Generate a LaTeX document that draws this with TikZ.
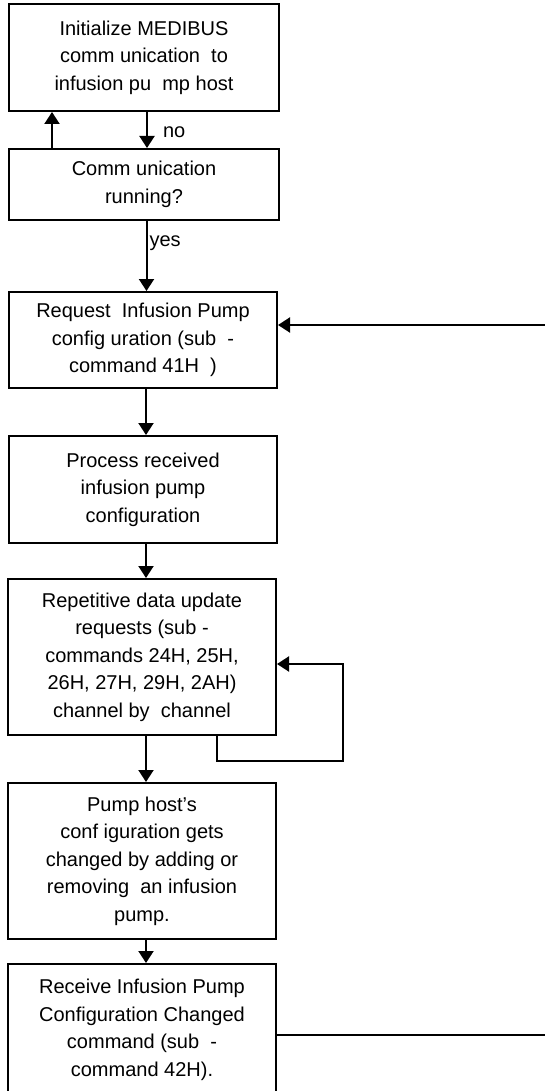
\documentclass[tikz,border=0pt]{standalone}
\usepackage{fontspec}
\setmainfont{Liberation Sans}
\usepackage{tikz}
\usetikzlibrary{arrows.meta, positioning}

\tikzset{
  procbox/.style={draw=black, line width=2pt, minimum width=268pt, align=center,
    inner sep=0pt, font=\fontsize{20}{27.5}\selectfont},
  flow/.style={line width=2pt, -{Triangle[width=15pt,length=12pt]}},
  plain/.style={line width=2pt},
  lbl/.style={font=\fontsize{20}{24}\selectfont, inner sep=1pt}
}

\begin{document}
\begin{tikzpicture}[x=1pt,y=-1pt]
	\useasboundingbox (0,0) rectangle (545,1091);
	\node[procbox, minimum width=270pt, minimum height=107pt] (init) at (144,57.5) {Initialize MEDIBUS\hspace{14pt}\\ comm unication\ \ to\\infusion pu\ \ mp host};
	\node[procbox, minimum width=270pt, minimum height=71pt] (running) at (144,184.5) {Comm unication\\running?};
	\node[procbox, minimum height=96pt] (request) at (143,340) {Request\ \ Infusion Pump\hspace{10pt}\\ config uration (sub\ \ -\\command 41H\ \ )};
	\node[procbox, minimum height=107pt] (process) at (143,489.5) {Process received\\infusion pump\\configuration};
	\node[procbox, minimum height=156pt] (repeat) at (142,657) {Repetitive data update\\ requests (sub -\\commands 24H, 25H,\\26H, 27H, 29H, 2AH)\hspace{12pt}\\ channel by\ \ channel};
	\node[procbox, minimum height=156pt] (change) at (142,861) {Pump host's\\conf iguration gets\\changed by adding or\\removing\ \ an infusion\\pump.};
	\node[procbox, minimum height=132pt, anchor=north] (receive) at (142,963) {Receive Infusion Pump\\Configuration Changed\\ command (sub\ \ -\\command 42H).};

	\coordinate (back) at (545,325);
	\coordinate (out) at (545,1035);
	\coordinate (loopcorner) at (343,761);

	\draw[flow] ([xshift=3pt]init.south) -- ([xshift=3pt]running.north) node[lbl, pos=0.55, right=14pt] {no};
	\draw[flow] ([xshift=-92pt]running.north) -- ([xshift=-92pt]init.south);
	\draw[flow] ([xshift=2.5pt]running.south) -- ([xshift=3.5pt]request.north) node[lbl, pos=0.32, right=1pt] {yes};

	\path [flow] ([xshift=3pt]request.south) edge ([xshift=3pt]process.north);
	\path [flow] ([xshift=3pt]process.south) edge ([xshift=4pt]repeat.north);
	\path [flow] ([xshift=4pt]repeat.south) edge ([xshift=4pt]change.north);
	\path [flow] ([xshift=4pt]change.south) edge ([xshift=4pt]receive.north);

	\draw[flow] ([xshift=74.5pt]repeat.south) |- (loopcorner) |- ([yshift=-7pt]repeat.east);
	\draw[flow] (back) -- (request.east |- back);
	\draw[plain] (receive.east |- out) -- (out);
\end{tikzpicture}
\end{document}
